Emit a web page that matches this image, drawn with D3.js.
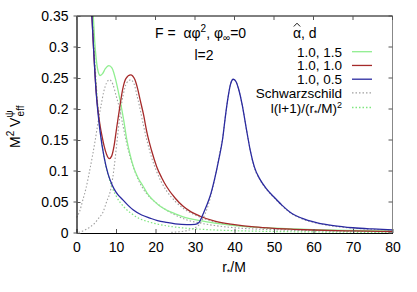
<!DOCTYPE html>
<html><head><meta charset="utf-8">
<script src="https://cdn.jsdelivr.net/npm/d3@7"></script>
<style>
body{margin:0;background:#fff;}
text{font-family:"Liberation Sans",Arial,sans-serif;fill:#000;white-space:pre;}
</style></head>
<body><svg id="c" width="417" height="292"></svg>
<script>
// ---- data ----
const xTicks = [0,10,20,30,40,50,60,70,80];
const yTicks = [0,0.05,0.1,0.15,0.2,0.25,0.3,0.35];
const yTickLabels = ["0","0.05","0.1","0.15","0.2","0.25","0.3","0.35"];
const legendLabels = ["1.0, 1.5","1.0, 1.0","1.0, 0.5","Schwarzschild","l(l+1)/(r*/M)²"];

// alpha=1.0, d=1.5
const greenR = [4.25,4.6,5,5.5,6,6.6,7.3,8.2,9,10,11,12,12.7,13.5,14.4,15.5,16.9,18,19.4,21,22.8,25,27,31.3,35,40,45,50,60,70,80];
const greenV = [0.35,0.31,0.28,0.26,0.254,0.257,0.265,0.27,0.266,0.245,0.215,0.18,0.152,0.128,0.107,0.09,0.075,0.063,0.053,0.044,0.037,0.031,0.026,0.02,0.016,0.012,0.0095,0.0078,0.0055,0.004,0.003];
// alpha=1.0, d=1.0
const redR = [3.9,4.3,5,5.5,6,6.5,7,7.6,8.3,8.9,9.5,10.2,11,11.7,12.5,13.7,14.8,15.5,16.1,17,17.8,19,20.3,21.5,22.8,25,27,29,31.3,35,40,45,50,55,60,70,80];
const redV = [0.35,0.3,0.227,0.195,0.172,0.155,0.14,0.127,0.12,0.124,0.14,0.171,0.205,0.232,0.249,0.255,0.247,0.232,0.215,0.19,0.163,0.133,0.107,0.09,0.075,0.056,0.043,0.034,0.027,0.019,0.0135,0.0098,0.0075,0.006,0.0048,0.0033,0.0024];
// alpha=1.0, d=0.5
const blueR = [3.9,4.3,5,5.5,6,7,8,9,10,11.8,13,14.4,16.5,18.6,20.5,22.8,25,27.9,30,31,32,33,34,35,36,37,37.5,38,38.5,39,39.7,40.4,41,42,43,44,45,46.5,48,50,52,54,57,61,65,70,75,80];
const blueV = [0.35,0.3,0.225,0.19,0.162,0.122,0.095,0.078,0.066,0.053,0.045,0.037,0.029,0.024,0.02,0.017,0.0148,0.0135,0.0138,0.017,0.03,0.045,0.063,0.088,0.118,0.152,0.178,0.203,0.224,0.24,0.248,0.244,0.233,0.205,0.168,0.133,0.107,0.086,0.072,0.058,0.045,0.034,0.024,0.0165,0.012,0.0085,0.0065,0.005];
// Schwarzschild (three shifted copies)
const schw1R = [0,0.8,1.55,2.4,3.25,4,4.8,5.5,6.2,6.9,7.6,8.3,9.2,10,11,11.8,12.7,13.5,14.4,15.5,16.9,18.5,20.3,22.5,25,28,31.3,35,40,50,60,70,80];
const schw1V = [0.025,0.035,0.052,0.072,0.098,0.123,0.152,0.18,0.205,0.228,0.242,0.247,0.24,0.222,0.198,0.172,0.145,0.124,0.106,0.088,0.071,0.058,0.048,0.038,0.029,0.021,0.016,0.012,0.0085,0.0052,0.0035,0.0025,0.0018];
const schw2R = [0.5,1.5,2.5,3.5,4.5,5.5,6.8,7.6,8.5,9.2,9.75,10.3,11,11.8,12.7,13.7,14.6,15.3,16.1,17,17.8,19,20.3,21.5,22.8,25,27,30,35,40,50,60,70,80];
const schw2V = [0.001,0.003,0.006,0.01,0.015,0.023,0.035,0.05,0.066,0.09,0.118,0.15,0.19,0.222,0.242,0.247,0.24,0.222,0.2,0.172,0.15,0.122,0.099,0.082,0.068,0.051,0.04,0.029,0.018,0.0125,0.0068,0.0042,0.0028,0.002];
const schw3R = [24,26,28,29.5,31,32.5,33.5,34.5,35.5,36.5,37,37.5,38,38.5,39,39.7,40.4,41,42,43,44,45,46.5,48,50,52,54,57,61,65,70,75,80];
const schw3V = [0.001,0.002,0.004,0.007,0.013,0.03,0.048,0.073,0.103,0.137,0.153,0.178,0.203,0.224,0.24,0.248,0.244,0.233,0.205,0.168,0.133,0.106,0.085,0.071,0.057,0.044,0.033,0.023,0.0155,0.011,0.0078,0.0058,0.0044];
// l(l+1)/(r*/M)^2
const cfR = [4.15,4.5,5,5.5,6,7,8,9,10,12,14,16,18,20,25,30,35,40,50,60,70,80];
const cfV = [0.35,0.296,0.24,0.198,0.167,0.122,0.094,0.074,0.06,0.042,0.031,0.023,0.0185,0.015,0.0096,0.0067,0.0049,0.0038,0.0024,0.0017,0.0012,0.0009];

// ---- drawing ----
const svg = d3.select("#c");
const L = 76.5, R = 392.5, T = 16, B = 233;
const x = d3.scaleLinear().domain([0,80]).range([L,R]);
const y = d3.scaleLinear().domain([0,0.35]).range([B,T]);

svg.append("clipPath").attr("id","clip").append("rect")
  .attr("x",L).attr("y",T).attr("width",R-L).attr("height",B-T);

const cGreen="#90ee90", cRed="#a52a2a", cBlue="#2a2aa0", cGray="#a0a0a0", cLg="#7fe67f";

const series = [
  {r:schw1R,v:schw1V,c:cGray,dash:"1.5,2",w:1.1},
  {r:schw2R,v:schw2V,c:cGray,dash:"1.5,2",w:1.1},
  {r:schw3R,v:schw3V,c:cGray,dash:"1.5,2",w:1.1},
  {r:cfR,v:cfV,c:cLg,dash:"1.5,2",w:1.2},
  {r:greenR,v:greenV,c:cGreen,dash:null,w:1.3},
  {r:redR,v:redV,c:cRed,dash:null,w:1.3},
  {r:blueR,v:blueV,c:cBlue,dash:null,w:1.3}
];
const line = d3.line().x(d=>x(d[0])).y(d=>y(d[1])).curve(d3.curveMonotoneX);
const g = svg.append("g").attr("clip-path","url(#clip)");
series.forEach(s=>{
  g.append("path").datum(s.r.map((r,i)=>[r,s.v[i]]))
   .attr("d",line).attr("fill","none").attr("stroke",s.c)
   .attr("stroke-width",s.w).attr("stroke-dasharray",s.dash);
});

// axes frame
svg.append("line").attr("x1",L).attr("x2",R).attr("y1",T).attr("y2",T).attr("stroke","#000");
svg.append("line").attr("x1",R).attr("x2",R).attr("y1",T).attr("y2",B).attr("stroke","#888");
const xAxis = d3.axisBottom(x).tickValues(xTicks).tickSizeInner(-4).tickSizeOuter(0).tickPadding(9);
const yAxis = d3.axisLeft(y).tickValues(yTicks).tickFormat((d,i)=>yTickLabels[i]).tickSizeInner(-4).tickSizeOuter(0).tickPadding(8);
const gx = svg.append("g").attr("transform",`translate(0,${B})`).call(xAxis);
const gy = svg.append("g").attr("transform",`translate(${L},0)`).call(yAxis);
[gx,gy].forEach(a=>{a.selectAll("text").style("font-size","14px").attr("fill","#000");
  a.select(".domain").attr("stroke","#000").attr("stroke-width",1.2);
  a.selectAll(".tick line").attr("stroke","#555");});
// mirrored ticks
xTicks.forEach(t=>svg.append("line").attr("x1",x(t)).attr("x2",x(t)).attr("y1",T).attr("y2",T+4).attr("stroke","#555"));
yTicks.forEach(t=>svg.append("line").attr("x1",R).attr("x2",R-4).attr("y1",y(t)).attr("y2",y(t)).attr("stroke","#555"));
// small outer y ticks
yTicks.forEach(t=>svg.append("line").attr("x1",L-3).attr("x2",L).attr("y1",y(t)).attr("y2",y(t)).attr("stroke","#555"));

// x label
const xl = svg.append("text").attr("x",234).attr("y",272).attr("text-anchor","middle").style("font-size","14px");
xl.append("tspan").text("r");
xl.append("tspan").text("*").style("font-size","9px").attr("dy",3);
xl.append("tspan").text("/M").attr("dy",-3);

// y label
const yl = svg.append("text").attr("transform","translate(20,148) rotate(-90)").style("font-size","14px");
yl.append("tspan").text("M");
yl.append("tspan").text("2").style("font-size","10px").attr("dy",-6);
yl.append("tspan").text(" V").attr("dy",6);
yl.append("tspan").text("ψ").style("font-size","10px").attr("dy",-7);
yl.append("tspan").text("eff").style("font-size","10px").attr("dx",-6).attr("dy",11);

// annotation
const t1 = svg.append("text").attr("x",155).attr("y",38).style("font-size","14px");
t1.append("tspan").text("F =\u00a0\u00a0αφ");
t1.append("tspan").text("2").style("font-size","10px").attr("dy",-6);
t1.append("tspan").text(", φ").attr("dy",6);
t1.append("tspan").text("∞").style("font-size","10px").attr("dy",3);
t1.append("tspan").text("=0").attr("dy",-3);
svg.append("text").attr("x",204).attr("y",60).attr("text-anchor","middle").style("font-size","14px").text("l=2");

// legend title: alpha with hat (hat drawn as a small stroke)
svg.append("text").attr("x",293).attr("y",38).style("font-size","14px").text("α, d");
svg.append("path").attr("d","M293.8,26.5 L297,23.2 L300.2,26.5").attr("fill","none").attr("stroke","#000").attr("stroke-width",0.9);
const legStyles = [
  {c:cGreen,dash:null},{c:cRed,dash:null},{c:cBlue,dash:null},{c:cGray,dash:"1.5,2"},{c:cLg,dash:"1.5,2"}
];
legendLabels.forEach((lab,i)=>{
  const yy = 51.7 + i*13.75 + (i===4 ? 0.8 : 0);
  const tx = svg.append("text").attr("x",342).attr("y",yy+5).attr("text-anchor","end").style("font-size","13.5px");
  if(i===4){
    tx.append("tspan").text("l(l+1)/(r");
    tx.append("tspan").text("*").style("font-size","9px").attr("dy",3);
    tx.append("tspan").text("/M)").attr("dy",-3);
    tx.append("tspan").text("2").style("font-size","9px").attr("dy",-4.5);
  } else tx.text(lab);
  svg.append("line").attr("x1",352).attr("x2",372).attr("y1",yy).attr("y2",yy)
    .attr("stroke",legStyles[i].c).attr("stroke-width",1.3).attr("stroke-dasharray",legStyles[i].dash);
});
</script></body></html>
